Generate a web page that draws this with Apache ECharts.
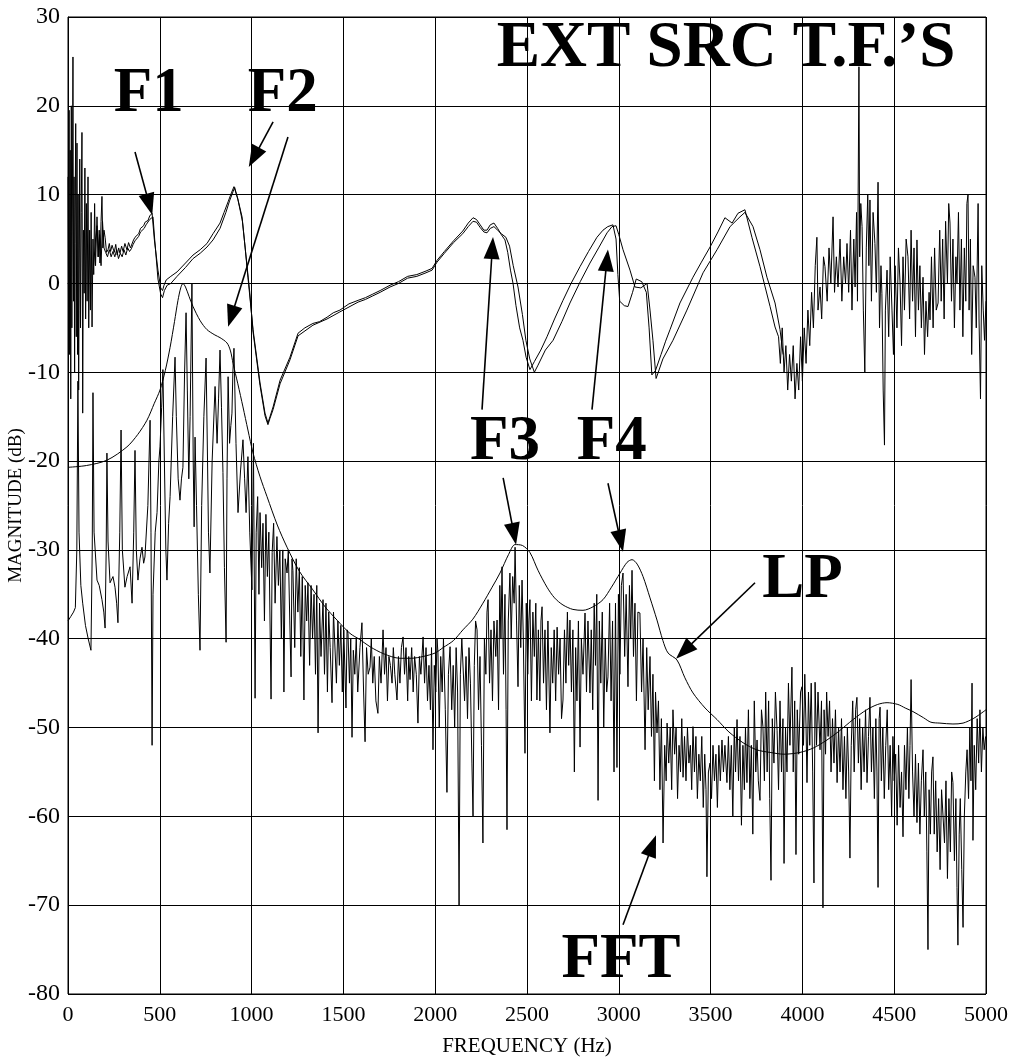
<!DOCTYPE html>
<html>
<head>
<meta charset="utf-8">
<script src="https://cdn.jsdelivr.net/npm/echarts@6/dist/echarts.min.js"></script>
<style>html,body{margin:0;padding:0;background:#fff}#c{width:1029px;height:1064px}</style>
</head>
<body>
<div id="c"></div>
<script>
// Axis ticks
const xTicks = [0,500,1000,1500,2000,2500,3000,3500,4000,4500,5000];
const yTicks = [-80,-70,-60,-50,-40,-30,-20,-10,0,10,20,30];

// External source transfer function, trace 1 [Hz, dB]
const extSrcA = [
[0,12],[3,-3],[6,19.5],[9,-8],[12,15],[15,-13],[18,20],[21,-5],[24,10],[27,25.5],[30,-2],[33,12],[36,-10],[38,4.5],[42,18],[45,-6],[49,15.8],[52,-8],[55,10],[58,-12],[60,-3],[64,14],[68,-5],[72,8],[76,17],[80,-14.6],[84,6],[88,-1.1],[92,13],[96,-4],[100,9],[104,-2],[109,12],[113,-5],[118,6],[122,-3],[126,8],[131,-4.9],[136,5],[140,1],[145,9],[150,2],[158,7.5],[164,3],[170,6],[174,2.3],[180,7],[185,9.8],[190,4],[196,6],[202,5.2],[210,3.5],[218,3.8],[225,4.5],[232,3.6],[240,4.3],[245,4.1],[252,3.5],[260,4.4],[268,3.2],[276,4],[283,3.4],[292,4.2],[300,3.6],[310,4.5],[321,3.8],[330,4.6],[340,4],[349,4.1],[357,4.9],[365,5.2],[375,5.4],[385,5.6],[395,6.2],[403,6],[412,6.5],[420,6.9],[428,6.8],[436,7.1],[445,7.6],[452,7.4],[458,7.9],[463,7.7],[470,5],[490,1.5],[505,-0.5],[515,-0.8],[523,-0.2],[535,0.4],[560,0.8],[594,1.3],[640,2.3],[681,3.2],[720,3.8],[757,4.5],[790,5.6],[828,6.8],[850,8],[872,9.2],[890,10.2],[904,10.9],[925,9.5],[948,7.5],[965,4],[980,0.7],[1008,-5.2],[1046,-11.2],[1073,-14.6],[1089,-15.7],[1100,-15],[1117,-13.9],[1155,-10.9],[1209,-8.3],[1253,-5.6],[1290,-5],[1334,-4.5],[1370,-4.3],[1411,-3.8],[1445,-3.3],[1481,-3],[1530,-2.3],[1580,-1.9],[1620,-1.6],[1660,-1.2],[1700,-0.8],[1754,-0.2],[1800,0.2],[1850,0.8],[1900,1],[1950,1.4],[1983,1.7],[2010,2.6],[2050,3.6],[2100,4.8],[2150,5.9],[2180,6.8],[2206,7.4],[2225,7.2],[2245,6.6],[2265,6],[2282,6],[2300,6.6],[2320,6.8],[2340,6.2],[2360,5.5],[2380,4.9],[2395,3.5],[2410,1.5],[2424,0],[2440,-2.5],[2460,-5],[2478,-6.4],[2495,-8.3],[2516,-9.7],[2540,-8.8],[2575,-7.5],[2609,-6],[2650,-4],[2696,-1.9],[2740,0],[2789,1.9],[2835,3.6],[2881,5.2],[2914,6],[2940,6.4],[2968,6.6],[2985,5],[2995,1],[3005,-2],[3030,-2.5],[3050,-2.6],[3075,-1],[3095,0.5],[3104,0.7],[3125,0.2],[3150,-1],[3165,-5],[3180,-10.3],[3200,-9.8],[3230,-8],[3255,-6.5],[3279,-5.2],[3333,-2.2],[3404,0.7],[3450,2.4],[3497,4.1],[3540,5.8],[3578,7.4],[3617,6.8],[3649,7.9],[3687,8.3],[3725,5.2],[3769,1.9],[3824,-2.6],[3851,-4.9],[3870,-6],[3880,-9],[3890,-5],[3900,-10],[3910,-7],[3920,-12],[3930,-8],[3940,-11],[3950,-7],[3960,-13],[3970,-9],[3980,-12],[3990,-6],[4000,-11],[4010,-5],[4020,-9],[4030,-3],[4040,-7],[4050,-1],[4060,-5],[4070,2],[4079,5.2],[4085,-3],[4096,-0.4],[4105,-4],[4115,3],[4123,1.9],[4135,-2],[4145,4],[4155,0],[4167,7.5],[4175,-1],[4185,3],[4194,-0.4],[4205,5],[4215,-2],[4225,3],[4235,0],[4243,4.5],[4252,-1],[4262,6],[4270,-3],[4280,5],[4287,-0.4],[4295,8],[4300,-2],[4308,24.4],[4312,3],[4318,9],[4325,6.4],[4332,-3],[4340,-10],[4348,4],[4356,10],[4362,2],[4368,9.4],[4376,-2],[4385,8],[4395,4.5],[4403,-1],[4412,11.4],[4420,-5],[4428,2],[4433,-1.1],[4440,-12],[4447,-18.2],[4452,-3],[4461,1.5],[4470,-6],[4478,3],[4488,-3],[4496,-8],[4505,2],[4515,-5],[4523,4],[4532,0],[4540,-7],[4548,3],[4556,-3],[4565,5],[4575,3],[4584,-4],[4592,6],[4600,-2],[4608,4],[4616,-6],[4624,4.9],[4632,-3],[4640,2],[4648,-5],[4657,0.7],[4665,-8],[4673,-2],[4682,-6],[4690,-1],[4695,-4.1],[4703,3],[4712,-5],[4720,4],[4729,-3],[4739,-2.2],[4748,6],[4756,-2],[4764,5],[4772,-4],[4780,7],[4790,0],[4797,9],[4804,6.8],[4812,-2],[4820,5],[4828,-5],[4836,3],[4842,0],[4850,8],[4858,-3],[4866,5],[4874,-6],[4882,4],[4890,-2],[4896,9],[4902,10],[4908,-3],[4915,5],[4922,-8],[4930,2],[4940,0.7],[4947,-5],[4957,9],[4962,-4],[4970,-13],[4977,2],[4985,-3],[4992,-6.4],[5000,-2]
];

// External source transfer function, trace 2 [Hz, dB]
const extSrcB = [
[140,2],[150,5],[158,6.5],[165,3],[172,5.5],[180,2],[188,7],[196,4],[205,3.5],[215,3],[225,3.8],[235,3],[245,3.6],[255,3],[265,3.8],[275,2.8],[285,3.4],[295,3],[305,3.8],[315,3.2],[325,4],[335,3.6],[345,3.9],[355,4.4],[365,4.8],[375,5],[385,5.3],[395,5.8],[405,5.6],[415,6.2],[425,6.6],[435,6.8],[445,7.2],[455,7.3],[463,7.5],[472,5],[490,0.5],[505,-1.2],[515,-1.6],[525,-0.8],[540,-0.2],[560,0],[594,0.8],[640,1.8],[681,2.8],[720,3.4],[757,4.1],[790,4.9],[828,6.2],[860,8],[880,9.3],[900,10.4],[908,10.8],[925,9.5],[950,7],[975,2],[990,-1],[1008,-5.5],[1046,-11.5],[1073,-14.9],[1089,-15.9],[1100,-15.2],[1117,-14.2],[1155,-11.3],[1209,-8.6],[1253,-5.9],[1334,-4.7],[1411,-4],[1481,-3.2],[1580,-2.1],[1620,-1.8],[1660,-1.4],[1700,-1],[1754,-0.4],[1800,0],[1850,0.6],[1900,0.8],[1950,1.2],[1983,1.5],[2010,2.4],[2050,3.4],[2100,4.6],[2150,5.6],[2180,6.4],[2206,7],[2225,6.9],[2245,6.3],[2265,5.8],[2282,5.7],[2300,6.2],[2320,6.4],[2340,6],[2360,5.6],[2385,5.2],[2405,4.2],[2425,2],[2451,-0.4],[2475,-3.5],[2494,-6.4],[2515,-8.5],[2540,-10],[2560,-9.2],[2600,-7.5],[2642,-6.4],[2690,-4.3],[2734,-2.2],[2790,0.2],[2843,2.3],[2890,4],[2936,5.7],[2963,6.4],[2985,6.5],[3000,5.5],[3023,3.8],[3061,1.5],[3088,-0.4],[3120,-0.5],[3154,0],[3170,-3],[3186,-6.4],[3203,-10.7],[3215,-10],[3240,-8.5],[3295,-6.4],[3371,-3],[3459,1.2],[3535,3.8],[3606,6.4],[3660,7.5],[3687,8],[3731,6.4],[3769,3.8],[3807,0.7],[3851,-2.2],[3878,-5.2],[3895,-8]
];

// LP (linear prediction) envelope [Hz, dB]
const lpEnvelope = [
[0,-20.7],[100,-20.5],[212,-19.9],[321,-18.4],[380,-17],[430,-15.4],[470,-13.5],[501,-12],[530,-9.8],[556,-7.2],[580,-4.3],[599,-1.9],[614,-0.5],[626,0],[640,-0.4],[660,-1.5],[681,-2.6],[720,-4.2],[757,-5.2],[800,-5.8],[828,-6.1],[866,-6.7],[885,-7.6],[899,-9],[925,-11.3],[953,-13.9],[980,-16.5],[1008,-19.1],[1045,-21.7],[1084,-24],[1140,-27.2],[1193,-29.7],[1260,-32.4],[1334,-34.5],[1400,-36.4],[1465,-37.9],[1536,-39.4],[1590,-40.1],[1645,-40.9],[1720,-41.7],[1808,-42.2],[1870,-42.2],[1934,-42],[2000,-41.6],[2043,-41],[2100,-40.2],[2151,-39],[2205,-37.8],[2260,-36],[2310,-34.2],[2353,-32.6],[2400,-30.5],[2435,-29.4],[2475,-29.5],[2516,-30.3],[2560,-32.3],[2609,-34.2],[2650,-35.4],[2696,-36.2],[2750,-36.7],[2805,-36.8],[2860,-36.4],[2914,-35.6],[2960,-34.2],[3007,-32.6],[3045,-31.4],[3072,-31.1],[3100,-31.6],[3132,-33],[3170,-35.4],[3208,-37.9],[3240,-40.2],[3268,-41.6],[3317,-42.4],[3360,-44.4],[3404,-46.1],[3470,-47.8],[3535,-49.1],[3600,-50.5],[3676,-51.7],[3750,-52.5],[3824,-52.8],[3900,-53],[3987,-52.8],[4060,-52.3],[4134,-51.4],[4200,-50.4],[4276,-49.1],[4350,-48],[4410,-47.4],[4461,-47.2],[4520,-47.4],[4560,-47.8],[4602,-48.2],[4660,-48.9],[4700,-49.4],[4749,-49.5],[4820,-49.6],[4875,-49.5],[4930,-49],[4960,-48.6],[5000,-48]
];

// FFT spectrum [Hz, dB]
const fftSpectrum = [
[0,-38],[15,-37.5],[30,-37],[40,-36.5],[48,-30],[54,-11],[60,-28],[70,-34],[80,-36],[95,-38.5],[110,-40],[125,-41.3],[132,-30],[136,-12.3],[142,-28],[158,-33.4],[170,-34],[185,-35.6],[195,-37],[202,-38.8],[208,-30],[212,-19.1],[218,-29],[229,-33.7],[245,-33],[256,-34.2],[265,-36],[272,-38.2],[282,-28],[289,-16.5],[296,-30],[310,-34.2],[322,-33],[338,-31.9],[349,-36],[358,-28],[365,-18.8],[372,-30],[381,-33.4],[392,-31],[403,-29.7],[412,-31.5],[419,-30.8],[435,-25],[447,-15.4],[452,-28],[458,-52],[463,-35],[475,-28],[485,-25.8],[495,-20],[501,-18.4],[510,-14],[517,-9.7],[525,-20],[533,-30],[539,-33.4],[548,-27],[556,-24],[570,-15],[583,-8.3],[590,-15],[600,-22],[610,-24.4],[618,-22],[626,-20.7],[635,-10],[643,-3.3],[650,-12],[658,-22],[665,-15],[675,0],[682,-20],[687,-27.4],[692,-17.3],[700,-25],[710,-35],[719,-41.3],[728,-25],[740,-15],[752,-8.4],[760,-20],[765,-28],[773,-32.6],[785,-20],[801,-11.6],[812,-18],[820,-13],[828,-7.5],[836,-14],[844,-21.3],[852,-32],[861,-40.4],[866,-22],[872,-10.5],[880,-18],[887,-16],[893,-14.6],[898,-10],[904,-7.3],[915,-18],[926,-25.8],[940,-21],[953,-17.6],[962,-22],[970,-25.8],[980,-19.5],[990,-28],[1002,-34.5],[1010,-18],[1019,-46.7],[1025,-28],[1033,-24],[1040,-35],[1046,-25.8],[1055,-32],[1062,-27],[1070,-38],[1078,-26],[1086,-33],[1094,-28],[1106,-46.8],[1112,-30.3],[1120,-27],[1128,-36],[1138,-28.5],[1146,-34],[1154,-30],[1162,-40],[1170,-30],[1176,-46],[1183,-31],[1193,-32.6],[1200,-30],[1208,-38],[1215,-44.3],[1220,-31],[1225,-32.3],[1235,-41],[1243,-31],[1252,-37],[1260,-32],[1268,-42],[1276,-33],[1285,-46.9],[1292,-34],[1300,-38],[1307,-33.7],[1316,-43],[1324,-34],[1332,-40],[1340,-35],[1348,-44],[1355,-34],[1362,-50.6],[1370,-36],[1378,-42],[1389,-35.6],[1397,-44],[1405,-36],[1413,-46],[1420,-37],[1428,-41],[1438,-47.2],[1446,-37],[1454,-37.1],[1462,-45],[1470,-38],[1478,-43],[1486,-38.5],[1494,-46],[1502,-39],[1514,-47.8],[1520,-39],[1525,-39.4],[1533,-45],[1540,-40],[1547,-51.1],[1554,-41.3],[1562,-44],[1570,-40],[1578,-46],[1590,-41],[1601,-38.2],[1610,-46],[1618,-51.6],[1626,-41],[1635,-44],[1645,-43.2],[1652,-40],[1660,-45],[1668,-42],[1677,-47],[1688,-48.4],[1696,-42],[1705,-45],[1716,-39],[1724,-44],[1732,-41],[1740,-47],[1748,-42],[1756,-43],[1765,-45],[1772,-41],[1780,-44],[1792,-46.9],[1800,-42],[1808,-45],[1816,-41],[1825,-39.8],[1833,-44],[1841,-41],[1850,-47],[1856,-42],[1863,-44.6],[1872,-41],[1880,-46],[1888,-42],[1897,-44],[1906,-49.5],[1914,-42],[1922,-44],[1934,-39.8],[1942,-45],[1950,-41],[1958,-47],[1966,-43],[1974,-48],[1980,-41],[1988,-52.5],[1995,-43],[2003,-46],[2010,-40],[2015,-41.6],[2022,-50],[2030,-42],[2038,-46],[2045,-40],[2055,-48],[2064,-57.3],[2072,-44],[2081,-40.9],[2090,-48],[2098,-43],[2106,-50],[2114,-41],[2122,-46],[2130,-70],[2137,-44],[2145,-40],[2151,-40.1],[2160,-47],[2168,-42],[2176,-49],[2184,-41],[2192,-45],[2200,-54],[2206,-60],[2213,-43],[2220,-38],[2228,-39],[2236,-48],[2244,-42],[2252,-52],[2260,-63],[2268,-40],[2276,-44],[2282,-37],[2288,-35.6],[2296,-45],[2304,-39],[2312,-47],[2320,-38],[2330,-42],[2337,-37.9],[2345,-48],[2352,-34],[2358,-40],[2364,-31.9],[2372,-44],[2380,-35],[2386,-48],[2391,-61.5],[2398,-38],[2407,-32.6],[2414,-40],[2422,-33],[2430,-36],[2435,-29.7],[2443,-38],[2451,-45.4],[2458,-34],[2466,-41],[2473,-33.4],[2480,-40],[2489,-52.9],[2496,-36],[2504,-44],[2510,-38],[2516,-35.6],[2524,-47],[2532,-37],[2540,-42],[2548,-36],[2554,-46.9],[2562,-39],[2570,-47],[2576,-38],[2582,-36.4],[2590,-45],[2598,-39],[2606,-48],[2614,-38],[2625,-50.6],[2632,-41],[2640,-45],[2648,-39],[2656,-47],[2664,-38.7],[2672,-44],[2680,-40],[2688,-49],[2696,-46.9],[2704,-39],[2712,-45],[2720,-37],[2727,-43],[2734,-37.9],[2742,-46],[2750,-39],[2758,-55],[2765,-41],[2772,-47],[2780,-38],[2789,-52.2],[2796,-40],[2805,-44],[2816,-37.1],[2824,-46],[2832,-38],[2843,-46.1],[2850,-39],[2858,-48],[2866,-36],[2873,-43],[2880,-35],[2887,-58.2],[2894,-38],[2902,-45],[2910,-37],[2918,-50],[2926,-40],[2934,-46],[2941,-44.3],[2950,-36],[2958,-47],[2966,-38],[2974,-55],[2982,-36],[2990,-54.5],[2998,-35],[3006,-44],[3014,-34],[3023,-32.6],[3032,-42],[3040,-35],[3050,-45.4],[3058,-34],[3065,-40],[3072,-32.3],[3080,-42],[3088,-36],[3096,-47],[3104,-37],[3115,-37.1],[3124,-46],[3132,-40],[3143,-52.5],[3152,-41],[3160,-48],[3170,-42],[3178,-51],[3186,-44],[3194,-56],[3200,-46],[3208,-50.6],[3216,-47],[3224,-57],[3232,-49],[3241,-63],[3250,-52],[3258,-56],[3263,-49.5],[3272,-54],[3280,-50],[3288,-57],[3295,-48],[3304,-53],[3312,-50],[3320,-58],[3328,-52],[3336,-55],[3343,-49],[3350,-55.6],[3358,-51],[3366,-56],[3374,-50],[3382,-54],[3390,-52],[3397,-57],[3404,-49.9],[3412,-55],[3420,-51],[3428,-58],[3436,-53],[3444,-56],[3452,-51],[3460,-59],[3468,-53],[3475,-57],[3480,-66.8],[3488,-55],[3497,-54],[3505,-58],[3513,-52],[3521,-56],[3529,-53],[3537,-59],[3545,-52],[3553,-56],[3562,-51.4],[3570,-55],[3578,-52],[3589,-56.2],[3597,-51],[3605,-57],[3613,-52],[3621,-60],[3629,-50],[3636,-55],[3644,-49.1],[3652,-56],[3660,-51],[3668,-61],[3676,-52],[3684,-57],[3690,-50],[3698,-56.2],[3706,-48],[3714,-58],[3722,-52],[3730,-62],[3738,-47],[3746,-55],[3753,-51.4],[3760,-56],[3769,-58.2],[3777,-48],[3785,-49.9],[3793,-56],[3800,-46],[3808,-55],[3816,-47],[3822,-58],[3829,-67.2],[3836,-49],[3845,-54],[3853,-46],[3862,-50.3],[3870,-57],[3878,-47],[3886,-55],[3894,-49],[3900,-65.3],[3908,-50],[3916,-55],[3924,-45],[3932,-52],[3943,-43.2],[3950,-55],[3958,-47],[3965,-64.3],[3972,-48],[3980,-53],[3990,-46],[3998,-45.4],[4006,-52],[4013,-44],[4020,-50],[4025,-56.2],[4033,-46],[4040,-52],[4048,-45],[4056,-55],[4063,-67.5],[4069,-44.9],[4077,-52],[4085,-46],[4096,-52.5],[4104,-47],[4112,-70.3],[4118,-48],[4126,-53],[4132,-46],[4140,-51],[4148,-47],[4156,-55],[4164,-49],[4172,-54],[4180,-48],[4189,-56.2],[4197,-50],[4205,-55],[4213,-49],[4221,-57],[4229,-51],[4237,-58],[4245,-50],[4252,-55],[4259,-64.7],[4266,-52],[4274,-47],[4282,-55],[4290,-48],[4297,-46.6],[4305,-54],[4312,-49],[4320,-57],[4328,-50],[4336,-55],[4344,-48],[4352,-56.2],[4360,-51],[4368,-46.6],[4376,-55],[4384,-50],[4392,-58],[4400,-49],[4406,-55],[4412,-68],[4418,-49],[4423,-47.7],[4430,-56],[4438,-50],[4446,-58],[4454,-52],[4462,-48],[4470,-57],[4478,-52],[4486,-60],[4493,-51],[4500,-56],[4508,-53],[4516,-61],[4524,-52],[4532,-59],[4540,-55],[4548,-62.3],[4556,-52],[4564,-57],[4572,-50],[4580,-58],[4586,-52],[4592,-44.6],[4600,-55],[4608,-60],[4616,-53],[4624,-60.7],[4632,-54],[4640,-62],[4648,-56],[4657,-52.5],[4664,-60],[4672,-55],[4678,-64],[4684,-75],[4690,-57],[4697,-62],[4704,-55],[4711,-53.3],[4718,-62],[4726,-56],[4734,-64],[4742,-58],[4750,-66],[4758,-57],[4766,-60],[4774,-63],[4782,-56],[4790,-67],[4798,-58],[4806,-64],[4813,-55],[4820,-56.2],[4828,-65],[4836,-58],[4842,-68],[4847,-74.5],[4854,-62],[4860,-58],[4868,-66],[4875,-72.5],[4882,-60],[4890,-55],[4897,-52.5],[4905,-58],[4912,-50],[4918,-56],[4924,-45],[4929,-62.7],[4936,-52],[4944,-57],[4952,-49],[4960,-54],[4967,-48],[4975,-55],[4983,-50],[4990,-52.5],[4998,-51]
];

// Annotation labels [Hz, dB, text]
const annotationLabels = [
  [440, 21.2, 'F1'], [1170, 21.2, 'F2'], [3584, 26.4, 'EXT SRC T.F.\u2019S'],
  [2380, -17.9, 'F3'], [2962, -17.9, 'F4'], [4000, -33.5, 'LP'], [3012, -76.3, 'FFT']
];
// Annotation arrows [fromHz, fromdB, toHz, todB] (head centre at the end point)
const annotationArrows = [
  [365, 14.8, 443, 8.9], [1117, 18.2, 1013, 14.2], [1198, 16.5, 890, -3.7],
  [2255, -14.2, 2311, 4.0], [2370, -21.9, 2429, -28.2],
  [2854, -14.2, 2935, 2.6], [2941, -22.5, 3010, -29.0],
  [3742, -33.7, 3355, -41.4], [3023, -72.2, 3182, -63.3]
];

const chart = echarts.init(document.getElementById('c'), null, {renderer: 'canvas'});
const serif = 'Liberation Serif, Times New Roman, serif';
const lineBase = {type: 'line', symbol: 'none', showSymbol: false, silent: true, animation: false,
  lineStyle: {color: '#000', width: 1}};

chart.setOption({
  animation: false,
  backgroundColor: '#fff',
  grid: {left: 68, right: 43, top: 17, bottom: 70, show: true, borderColor: '#000', borderWidth: 1,
    containLabel: false, outerBoundsMode: 'none'},
  xAxis: {
    type: 'value', min: xTicks[0], max: xTicks[xTicks.length - 1], interval: 500,
    name: 'FREQUENCY (Hz)', nameLocation: 'middle', nameGap: 42, nameMoveOverlap: false,
    nameTextStyle: {fontFamily: serif, fontSize: 21, color: '#000'},
    axisLine: {show: true, lineStyle: {color: '#000', width: 1}},
    axisTick: {show: false},
    axisLabel: {fontFamily: serif, fontSize: 22, color: '#000', margin: 10, formatter: v => String(v)},
    splitLine: {show: true, lineStyle: {color: '#000', width: 1}}
  },
  yAxis: {
    type: 'value', min: yTicks[0], max: yTicks[yTicks.length - 1], interval: 10,
    name: 'MAGNITUDE (dB)', nameLocation: 'middle', nameGap: 42, nameMoveOverlap: false,
    nameTextStyle: {fontFamily: serif, fontSize: 19, color: '#000'},
    axisLine: {show: true, lineStyle: {color: '#000', width: 1}},
    axisTick: {show: false},
    axisLabel: {fontFamily: serif, fontSize: 24, color: '#000', margin: 8, formatter: v => String(v)},
    splitLine: {show: true, lineStyle: {color: '#000', width: 1}}
  },
  series: [
    Object.assign({}, lineBase, {name: 'FFT', data: fftSpectrum}),
    Object.assign({}, lineBase, {name: 'LP', data: lpEnvelope, smooth: 0.3}),
    Object.assign({}, lineBase, {name: 'EXT SRC 2', data: extSrcB}),
    Object.assign({}, lineBase, {name: 'EXT SRC 1', data: extSrcA,
      markLine: {
        silent: true, animation: false, symbol: ['none', 'triangle'], symbolSize: [16, 22],
        lineStyle: {color: '#000', width: 1.6, type: 'solid'},
        itemStyle: {color: '#000'},
        label: {show: false},
        data: annotationArrows.map(a => [{coord: [a[0], a[1]]}, {coord: [a[2], a[3]]}])
      },
      markPoint: {
        silent: true, animation: false, symbol: 'rect', symbolSize: 1,
        itemStyle: {color: 'rgba(0,0,0,0)'},
        label: {show: true, position: 'inside', fontFamily: serif, fontWeight: 'bold', fontSize: 63, color: '#000', formatter: p => p.name},
        data: annotationLabels.map(t => ({name: t[2], coord: [t[0], t[1]],
          label: t[2].length > 4 ? {fontSize: 65} : {}}))
      }
    })
  ]
});
</script>
</body>
</html>
